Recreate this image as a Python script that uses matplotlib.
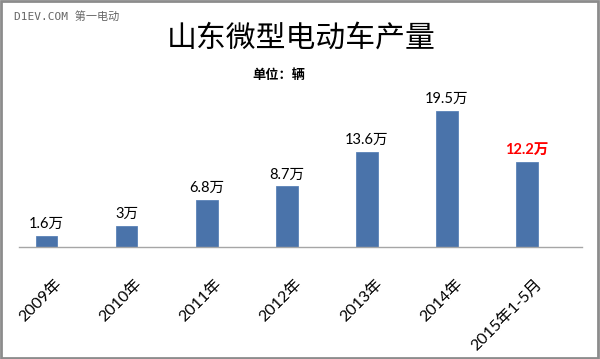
import matplotlib
matplotlib.use("Agg")
import matplotlib.pyplot as plt
from matplotlib.patches import Rectangle
from matplotlib.transforms import ScaledTranslation

categories = ["2009年", "2010年", "2011年", "2012年", "2013年", "2014年", "2015年1-5月"]
values = [1.6, 3, 6.8, 8.7, 13.6, 19.5, 12.2]
value_labels = ["1.6万", "3万", "6.8万", "8.7万", "13.6万", "19.5万", "12.2万"]
label_colors = ["#000000"] * 6 + ["#ff0000"]
label_bold = [False] * 6 + [True]

CJK = ["Noto Sans CJK SC", "DejaVu Sans"]
LAT = ["Lato", "Noto Sans CJK SC", "DejaVu Sans"]

fig = plt.figure(figsize=(6.0, 3.59), dpi=100)
fig.patch.set_facecolor("white")

# plot area: baseline at y=247 px, x axis line from 19 to 582 px
ax = fig.add_axes([19 / 600, 1 - 247 / 359, (582 - 19) / 600, (247 - 94) / 359])
xs = list(range(len(categories)))
ax.bar(xs, values, width=0.27, color="#4a73aa", edgecolor="#5b83b8", linewidth=0.6, zorder=2)
ax.set_xlim(-0.343, 6.685)
ax.set_ylim(0, 153 / 6.97)

for s in ("top", "right", "left"):
    ax.spines[s].set_visible(False)
ax.spines["bottom"].set_color("#a6a6a6")
ax.spines["bottom"].set_linewidth(1.0)
ax.set_yticks([])
ax.set_xticks(xs)
ax.tick_params(axis="x", length=0, pad=0)
ax.set_xticklabels(categories, rotation=45, ha="right", va="center",
                   rotation_mode="anchor", fontsize=11.5, family=LAT, color="#000000")
offset = ScaledTranslation(13 / 100, -35 / 100, fig.dpi_scale_trans)
for lbl in ax.get_xticklabels():
    lbl.set_transform(lbl.get_transform() + offset)

for x, v, t, c, b in zip(xs, values, value_labels, label_colors, label_bold):
    ax.annotate(t, (x, v), xytext=(0, 12), textcoords="offset pixels",
                ha="center", va="center", fontsize=10.5, family=LAT, color=c,
                fontweight="bold" if b else "normal", clip_on=False)

fig.text(301 / 600, 1 - 38 / 359, "山东微型电动车产量", ha="center", va="center",
         fontsize=21.5, family=CJK, fontweight="light", color="#000000")
fig.text(279 / 600, 1 - 75 / 359, "单位：辆", ha="center", va="center",
         fontsize=9.5, family=CJK, fontweight="bold", color="#000000")
fig.text(14 / 600, 1 - 16 / 359, "D1EV.COM 第一电动", ha="left", va="center",
         fontsize=8, family=["DejaVu Sans Mono", "Noto Sans CJK SC"], color="#666666")

fig.patches.append(Rectangle((0.002, 0.003), 0.994, 0.994, transform=fig.transFigure,
                             fill=False, edgecolor="#8c8c8c", linewidth=2.0))

fig.savefig("out.png", dpi=100, facecolor="white")
